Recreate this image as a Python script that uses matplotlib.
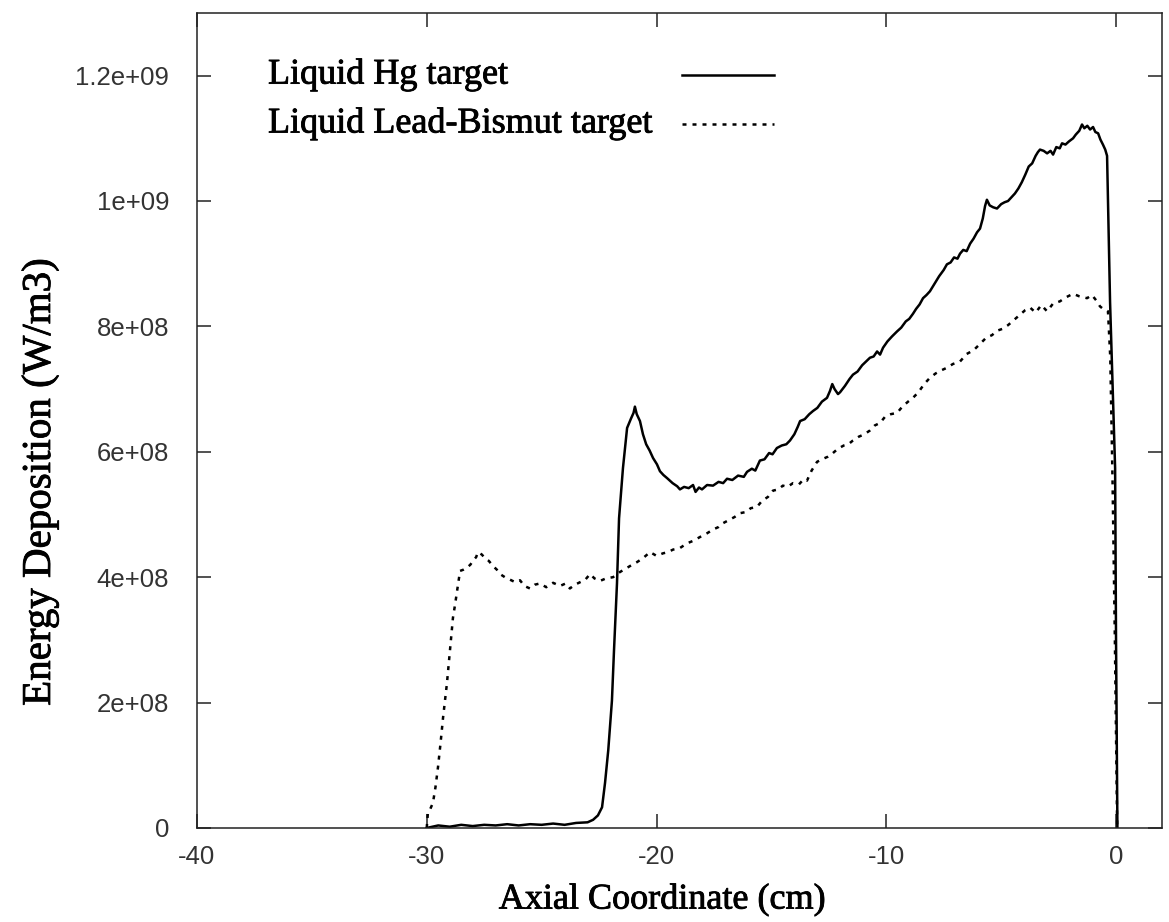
import numpy as np
import matplotlib
matplotlib.use("Agg")
import matplotlib.pyplot as plt
import matplotlib.patheffects as pe

# axial coordinate (cm) and energy deposition (units of 1e8 W/m3)
hg_x = [-30.0, -29.5, -29.0, -28.5, -28.0, -27.5, -27.0, -26.5, -26.0, -25.5,
        -25.0, -24.5, -24.0, -23.5, -23.0, -22.76, -22.55, -22.37, -22.24, -22.10,
        -21.94, -21.85, -21.72, -21.63, -21.46, -21.28, -21.11, -21.00, -20.94, -20.86,
        -20.72, -20.59, -20.45, -20.30, -20.15, -19.98, -19.85, -19.70, -19.54, -19.30,
        -19.10, -18.98, -18.80, -18.60, -18.41, -18.30, -18.15, -18.02, -17.80, -17.54,
        -17.30, -17.10, -16.93, -16.70, -16.45, -16.20, -16.06, -15.85, -15.70, -15.50,
        -15.30, -15.10, -14.95, -14.76, -14.55, -14.35, -14.19, -14.00, -13.85, -13.75,
        -13.55, -13.35, -13.19, -13.00, -12.80, -12.58, -12.45, -12.35, -12.25, -12.10,
        -12.01, -11.80, -11.60, -11.45, -11.25, -11.05, -10.85, -10.71, -10.55, -10.40,
        -10.27, -10.14, -9.95, -9.75, -9.53, -9.35, -9.15, -9.00, -8.84, -8.70,
        -8.55, -8.40, -8.25, -8.10, -7.90, -7.70, -7.50, -7.36, -7.20, -7.05,
        -6.90, -6.79, -6.65, -6.50, -6.35, -6.20, -6.05, -5.92, -5.80, -5.70,
        -5.62, -5.50, -5.35, -5.18, -5.00, -4.85, -4.70, -4.55, -4.40, -4.25,
        -4.10, -3.95, -3.80, -3.65, -3.50, -3.40, -3.31, -3.15, -3.00, -2.85,
        -2.74, -2.60, -2.45, -2.35, -2.20, -2.05, -1.87, -1.75, -1.60, -1.48,
        -1.38, -1.25, -1.13, -1.00, -0.90, -0.78, -0.68, -0.57, -0.47, -0.39,
        -0.35, -0.26, -0.13, -0.04, 0.00, 0.04, 0.06]
hg_y = [0.00, 0.04, 0.02, 0.05, 0.03, 0.05, 0.04, 0.06, 0.04, 0.06,
        0.05, 0.07, 0.05, 0.08, 0.09, 0.13, 0.20, 0.33, 0.72, 1.24,
        2.03, 2.83, 3.90, 4.94, 5.74, 6.38, 6.53, 6.62, 6.72, 6.60,
        6.49, 6.28, 6.12, 6.02, 5.90, 5.80, 5.69, 5.63, 5.58, 5.50,
        5.45, 5.40, 5.44, 5.42, 5.47, 5.36, 5.43, 5.40, 5.47, 5.46,
        5.52, 5.50, 5.57, 5.55, 5.62, 5.60, 5.68, 5.73, 5.70, 5.86,
        5.88, 5.98, 5.96, 6.06, 6.10, 6.12, 6.18, 6.28, 6.40, 6.49,
        6.52, 6.60, 6.65, 6.70, 6.80, 6.86, 6.97, 7.08, 7.00, 6.92,
        6.95, 7.05, 7.16, 7.23, 7.28, 7.38, 7.45, 7.50, 7.52, 7.60,
        7.55, 7.66, 7.76, 7.84, 7.92, 7.98, 8.08, 8.12, 8.20, 8.28,
        8.35, 8.45, 8.50, 8.56, 8.68, 8.80, 8.90, 8.99, 9.02, 9.10,
        9.08, 9.16, 9.22, 9.20, 9.32, 9.40, 9.50, 9.56, 9.72, 9.92,
        10.02, 9.93, 9.90, 9.88, 9.95, 9.98, 10.00, 10.06, 10.12, 10.20,
        10.30, 10.42, 10.55, 10.60, 10.72, 10.78, 10.82, 10.80, 10.76, 10.80,
        10.74, 10.86, 10.84, 10.92, 10.90, 10.95, 11.00, 11.06, 11.12, 11.22,
        11.16, 11.20, 11.14, 11.18, 11.10, 11.08, 10.98, 10.90, 10.82, 10.72,
        9.98, 8.39, 6.80, 5.74, 3.00, 1.00, 0.00]

lbe_x = [-30.00, -29.95, -29.85, -29.73, -29.62, -29.51, -29.40, -29.29, -29.12, -28.99,
         -28.86, -28.76, -28.68, -28.55, -28.40, -28.25, -28.10, -27.99, -27.85, -27.77,
         -27.60, -27.46, -27.30, -27.12, -26.95, -26.81, -26.60, -26.38, -26.15, -25.94,
         -25.75, -25.51, -25.30, -25.07, -24.80, -24.50, -24.20, -23.95, -23.77, -23.55,
         -23.33, -23.10, -22.89, -22.70, -22.46, -22.20, -21.89, -21.60, -21.28, -21.05,
         -20.85, -20.60, -20.41, -20.28, -20.00, -19.72, -19.50, -19.28, -19.00, -18.67,
         -18.40, -18.11, -17.80, -17.54, -17.30, -17.11, -16.80, -16.60, -16.37, -16.10,
         -15.90, -15.63, -15.40, -15.15, -14.93, -14.70, -14.50, -14.30, -14.06, -13.80,
         -13.60, -13.45, -13.25, -13.01, -12.80, -12.55, -12.32, -12.10, -11.85, -11.65,
         -11.45, -11.20, -10.95, -10.71, -10.50, -10.27, -10.05, -9.80, -9.53, -9.30,
         -9.05, -8.84, -8.60, -8.35, -8.10, -7.85, -7.60, -7.36, -7.10, -6.79,
         -6.50, -6.20, -5.92, -5.65, -5.40, -5.18, -4.95, -4.70, -4.48, -4.20,
         -3.95, -3.74, -3.50, -3.25, -3.00, -2.75, -2.44, -2.20, -1.87, -1.60,
         -1.26, -1.05, -0.83, -0.70, -0.57, -0.45, -0.35, -0.25, -0.15, -0.05,
         0.02, 0.05]
lbe_y = [0.00, 0.24, 0.30, 0.40, 0.65, 0.97, 1.35, 1.76, 2.31, 2.83,
         3.35, 3.58, 3.78, 4.10, 4.12, 4.15, 4.20, 4.26, 4.32, 4.40,
         4.36, 4.30, 4.26, 4.18, 4.12, 4.05, 4.00, 3.96, 3.92, 3.95,
         3.86, 3.82, 3.88, 3.90, 3.84, 3.91, 3.86, 3.90, 3.82, 3.88,
         3.92, 3.96, 4.05, 3.98, 3.94, 3.98, 4.00, 4.08, 4.15, 4.20,
         4.24, 4.30, 4.36, 4.40, 4.34, 4.38, 4.40, 4.44, 4.46, 4.54,
         4.58, 4.64, 4.70, 4.76, 4.80, 4.86, 4.92, 4.96, 5.02, 5.04,
         5.10, 5.12, 5.22, 5.28, 5.38, 5.40, 5.46, 5.44, 5.50, 5.48,
         5.56, 5.54, 5.70, 5.84, 5.88, 5.92, 5.98, 6.05, 6.10, 6.12,
         6.18, 6.24, 6.28, 6.34, 6.42, 6.46, 6.56, 6.60, 6.62, 6.72,
         6.80, 6.86, 6.95, 7.08, 7.18, 7.25, 7.30, 7.34, 7.40, 7.44,
         7.56, 7.62, 7.72, 7.82, 7.86, 7.93, 7.96, 8.02, 8.09, 8.18,
         8.26, 8.30, 8.22, 8.34, 8.24, 8.36, 8.40, 8.46, 8.52, 8.48,
         8.45, 8.50, 8.40, 8.32, 8.28, 8.26, 8.24, 7.50, 5.50, 3.00,
         0.80, 0.00]

xticks = [-40, -30, -20, -10, 0]
yticks = [0, 2e8, 4e8, 6e8, 8e8, 1e9, 1.2e9]
ytick_labels = ["0", "2e+08", "4e+08", "6e+08", "8e+08", "1e+09", "1.2e+09"]
labels = ["Liquid Hg target", "Liquid Lead-Bismut target"]

serif = "Liberation Serif"
sans = "Liberation Sans"
heavy = [pe.withStroke(linewidth=0.6, foreground="black")]
dots = (0, (1.6, 2.4))

fig = plt.figure(figsize=(11.69, 9.22), dpi=100)
ax = fig.add_axes([0.1685, 0.102, 0.8255, 0.884])

ax.plot(hg_x, np.array(hg_y) * 1e8, color="black", lw=1.8)
ax.plot(lbe_x, np.array(lbe_y) * 1e8, color="black", lw=1.8, ls=dots)

ax.set_xlim(-40, 2)
ax.set_ylim(0, 1.3e9)
ax.set_xticks(xticks)
ax.set_xticklabels([str(t) for t in xticks])
ax.set_yticks(yticks)
ax.set_yticklabels(ytick_labels)

ax.tick_params(direction="in", length=10, width=1.1, top=True, right=True,
               labelsize=18.5, labelcolor="#333333", color="#222222")
ax.tick_params(axis="x", pad=12)
ax.tick_params(axis="y", pad=20)
for lab in ax.get_xticklabels() + ax.get_yticklabels():
    lab.set_fontfamily(sans)
for sp in ax.spines.values():
    sp.set_linewidth(1.1)
    sp.set_color("#222222")

ax.set_xlabel("Axial Coordinate (cm)", fontsize=26, family=serif, path_effects=heavy)
ax.set_ylabel("Energy Deposition (W/m3)", fontsize=29.5, family=serif, path_effects=heavy)
ax.xaxis.set_label_coords(0.482, -0.068)
ax.yaxis.set_label_coords(-0.143, 0.4245)

# gnuplot-style key: text left, line sample on the right
key_rows = [0.924, 0.864]
styles = ["-", dots]
for lab, yk, st in zip(labels, key_rows, styles):
    ax.text(0.0736, yk, lab, transform=ax.transAxes, fontsize=26, family=serif,
            ha="left", va="center", path_effects=heavy)
    ax.plot([0.5026, 0.598], [yk, yk], transform=ax.transAxes, color="black",
            lw=1.8, ls=st)

fig.savefig("out.png", dpi=100, facecolor="white")
